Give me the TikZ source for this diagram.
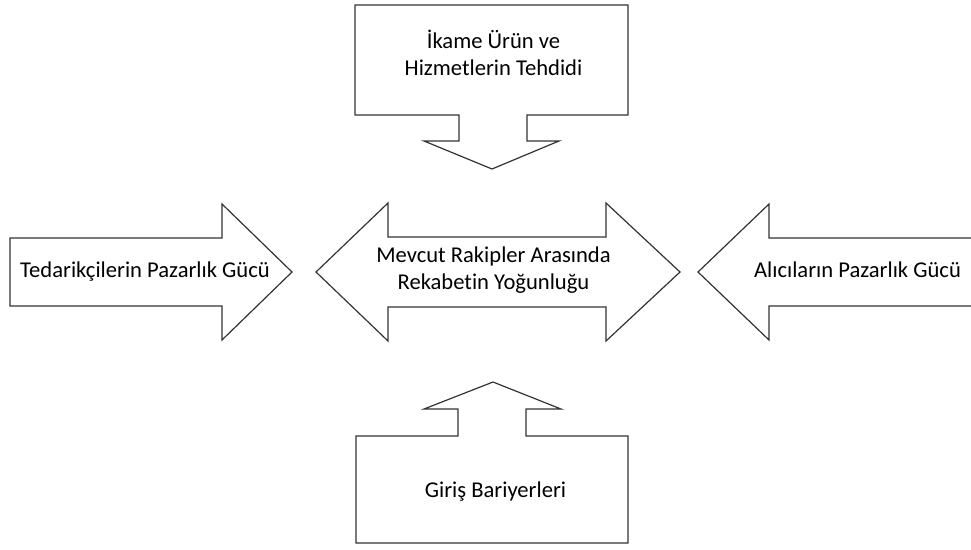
\documentclass[tikz,border=0pt]{standalone}
\usepackage{fontspec}
\setmainfont{Carlito}[Ligatures={NoCommon}]
\begin{document}
\begin{tikzpicture}[x=1pt,y=-1pt,
  force/.style={draw=black!80, line width=1.2pt, line join=miter, fill=white},
  label/.style={font=\fontsize{22.6}{27}\selectfont, text=black, inner sep=0pt, anchor=base}]
\clip (0,0) rectangle (971,549);

% threat of substitutes: box with a downward arrow
\draw[force] (355,5) -- (628,5) -- (628,115) -- (527,115) -- (527,141) -- (559,141)
  -- (492,169) -- (424,141) -- (459,141) -- (459,115) -- (355,115) -- cycle;
\node[label] (subst1) at (493.5,48) {İkame Ürün ve};
\node[label] (subst2) at (493.5,75) {Hizmetlerin Tehdidi};

% supplier power: arrow pointing right
\draw[force] (10,238) -- (222,238) -- (222,204) -- (292,272) -- (222,340)
  -- (222,306) -- (10,306) -- cycle;
\node[label] (supplier) at (145,277) {Tedarikçilerin Pazarlık Gücü};

% rivalry: double-headed arrow
\draw[force] (316,272) -- (388,203) -- (388,237) -- (606,237) -- (606,203) -- (680,272)
  -- (606,341) -- (606,307) -- (388,307) -- (388,341) -- cycle;
\node[label] (rival1) at (493.5,262) {Mevcut Rakipler Arasında};
\node[label] (rival2) at (493.5,289) {Rekabetin Yoğunluğu};

% buyer power: arrow pointing left, running past the right edge
\draw[force] (698,272) -- (769,204) -- (769,238) -- (985,238) -- (985,306)
  -- (769,306) -- (769,340) -- cycle;
\node[label] (buyer) at (857.5,277) {Alıcıların Pazarlık Gücü};

% barriers to entry: box with an upward arrow
\draw[force] (356,436) -- (458,436) -- (458,409) -- (424,409) -- (493,382) -- (561,409)
  -- (526,409) -- (526,436) -- (628,436) -- (628,543) -- (356,543) -- cycle;
\node[label] (entry) at (495.5,497) {Giriş Bariyerleri};
\end{tikzpicture}
\end{document}
